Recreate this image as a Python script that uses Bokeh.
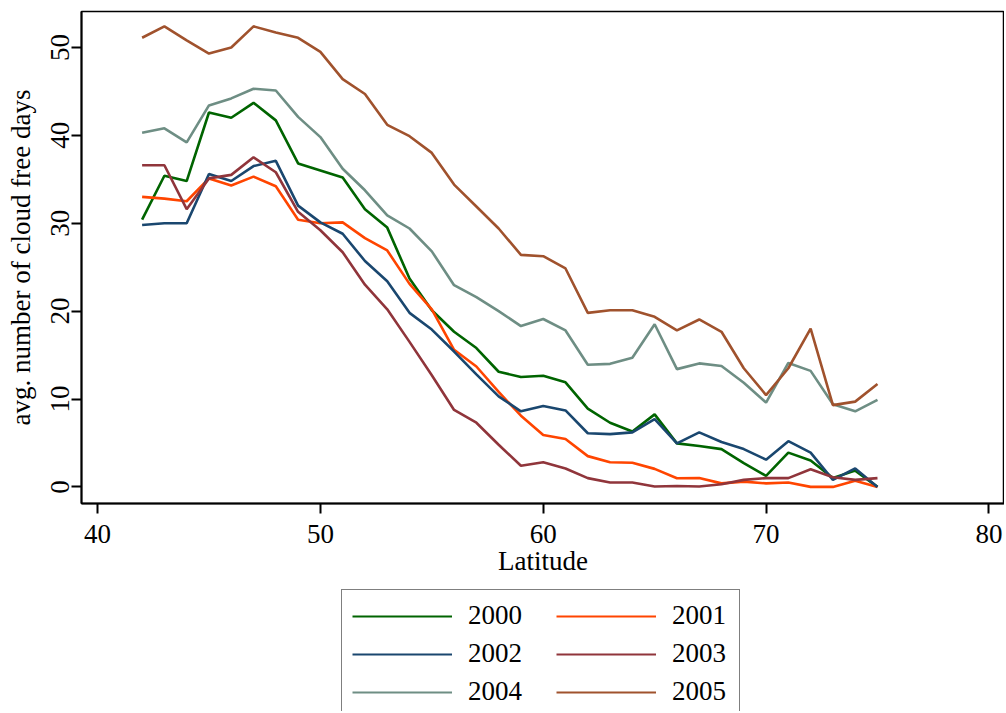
from bokeh.plotting import figure
from bokeh.models import Range1d, FixedTicker, Legend, LegendItem
from bokeh.layouts import column
from bokeh.embed import file_html
from bokeh.resources import INLINE

latitude = list(range(42, 76))

y2000 = [30.4, 35.4, 34.8, 42.6, 42.0, 43.7, 41.7, 36.8, 36.0, 35.2,
         31.6, 29.5, 23.7, 20.1, 17.65, 15.8, 13.1, 12.5, 12.65, 11.9,
         8.9, 7.3, 6.3, 8.25, 4.95, 4.65, 4.3, 2.7, 1.25, 3.9,
         3.0, 1.0, 1.85, 0.0]
y2001 = [33.0, 32.8, 32.5, 35.1, 34.3, 35.3, 34.2, 30.4, 30.0, 30.1,
         28.3, 26.9, 23.1, 20.2, 15.6, 13.7, 10.8, 8.1, 5.9, 5.45,
         3.5, 2.8, 2.75, 2.05, 0.98, 1.0, 0.4, 0.6, 0.4, 0.5,
         0.0, 0.0, 0.7, 0.0]
y2002 = [29.8, 30.0, 30.0, 35.6, 34.8, 36.5, 37.1, 32.0, 30.1, 28.8,
         25.7, 23.4, 19.8, 17.9, 15.4, 12.8, 10.3, 8.6, 9.2, 8.7,
         6.1, 6.0, 6.2, 7.7, 4.95, 6.2, 5.1, 4.3, 3.1, 5.2,
         3.9, 0.8, 2.1, 0.0]
y2003 = [36.6, 36.6, 31.6, 35.1, 35.5, 37.5, 35.8, 31.3, 29.2, 26.7,
         23.0, 20.2, 16.5, 12.7, 8.75, 7.3, 4.8, 2.4, 2.8, 2.1,
         1.0, 0.5, 0.5, 0.05, 0.1, 0.05, 0.3, 0.8, 1.0, 1.0,
         2.0, 1.1, 0.8, 1.0]
y2004 = [40.3, 40.8, 39.2, 43.4, 44.2, 45.3, 45.1, 42.1, 39.8, 36.2,
         33.75, 30.9, 29.4, 26.8, 22.95, 21.6, 20.0, 18.3, 19.1, 17.8,
         13.9, 14.0, 14.7, 18.5, 13.4, 14.05, 13.75, 11.85, 9.6, 14.1,
         13.2, 9.4, 8.6, 9.9]
y2005 = [51.1, 52.4, 50.8, 49.3, 50.0, 52.4, 51.7, 51.1, 49.5, 46.4,
         44.7, 41.2, 39.9, 38.0, 34.4, 31.9, 29.4, 26.4, 26.25, 24.85,
         19.8, 20.1, 20.1, 19.35, 17.8, 19.05, 17.65, 13.5, 10.45, 13.5,
         18.0, 9.3, 9.7, 11.7]

years = ["2000", "2001", "2002", "2003", "2004", "2005"]
series = [y2000, y2001, y2002, y2003, y2004, y2005]
colors = ["#006400", "#ff4500", "#1a476f", "#90353b", "#6e8e84", "#a0522d"]

x_ticks = [40, 50, 60, 70, 80]
y_ticks = [0, 10, 20, 30, 40, 50]

FONT = "Liberation Serif"
FS = "27px"
W = 1004

p = figure(width=W, height=584, output_backend="svg", toolbar_location=None,
           x_range=Range1d(39.28, 80.70), y_range=Range1d(-1.89, 54.09),
           min_border_left=81, min_border_right=0, min_border_top=11,
           min_border_bottom=81)

p.background_fill_color = "white"
p.border_fill_color = "white"
p.outline_line_color = "black"
p.outline_line_width = 1.5
p.xgrid.visible = False
p.ygrid.visible = False

for yr, ys, c in zip(years, series, colors):
    p.line(latitude, ys, line_color=c, line_width=2.6)

for ax in (p.xaxis[0], p.yaxis[0]):
    ax.axis_line_width = 2
    ax.axis_line_color = "black"
    ax.major_tick_line_width = 2
    ax.major_tick_out = 10
    ax.major_tick_in = 0
    ax.minor_tick_out = 0
    ax.minor_tick_in = 0
    ax.major_label_text_font = FONT
    ax.major_label_text_font_size = FS
    ax.major_label_text_color = "black"
    ax.axis_label_text_font = FONT
    ax.axis_label_text_font_size = FS
    ax.axis_label_text_font_style = "normal"
    ax.axis_label_text_color = "black"

p.xaxis[0].ticker = FixedTicker(ticks=x_ticks)
p.yaxis[0].ticker = FixedTicker(ticks=y_ticks)
p.xaxis[0].axis_label = "Latitude"
p.yaxis[0].axis_label = "avg. number of cloud free days"
p.yaxis[0].major_label_orientation = "vertical"
p.xaxis[0].major_label_standoff = 11
p.xaxis[0].axis_label_standoff = 0
p.yaxis[0].major_label_standoff = 2
p.yaxis[0].axis_label_standoff = 13

# legend panel below the plot (its lines lie outside its visible range,
# only their legend samples show)
q = figure(width=W, height=127, output_backend="svg", toolbar_location=None,
           x_range=Range1d(0, 1), y_range=Range1d(0, 1),
           x_axis_location=None, y_axis_location=None,
           min_border_left=0, min_border_right=0, min_border_top=0,
           min_border_bottom=0)
q.outline_line_color = None
q.xgrid.visible = False
q.ygrid.visible = False
q.background_fill_color = "white"
q.border_fill_color = "white"

pad = "\u00a0" * 4
items = []
for i, (yr, ys, c) in enumerate(zip(years, series, colors)):
    r = q.line(latitude, ys, line_color=c, line_width=2.2)
    items.append(LegendItem(label=(yr + pad if i % 2 == 0 else yr), renderers=[r]))

legend = Legend(items=items, ncols=2, orientation="horizontal",
                location=(260, -7))
legend.label_text_font = FONT
legend.label_text_font_size = FS
legend.label_text_color = "black"
legend.glyph_width = 100
legend.glyph_height = 30
legend.label_height = 30
legend.label_width = 57
legend.label_standoff = 16
legend.spacing = 7
legend.padding = 10
legend.margin = 0
legend.border_line_color = "black"
legend.border_line_width = 1.5
legend.background_fill_color = "white"
q.add_layout(legend, "center")

layout = column(p, q, spacing=0)
open("out.html", "w").write(file_html(layout, INLINE))
